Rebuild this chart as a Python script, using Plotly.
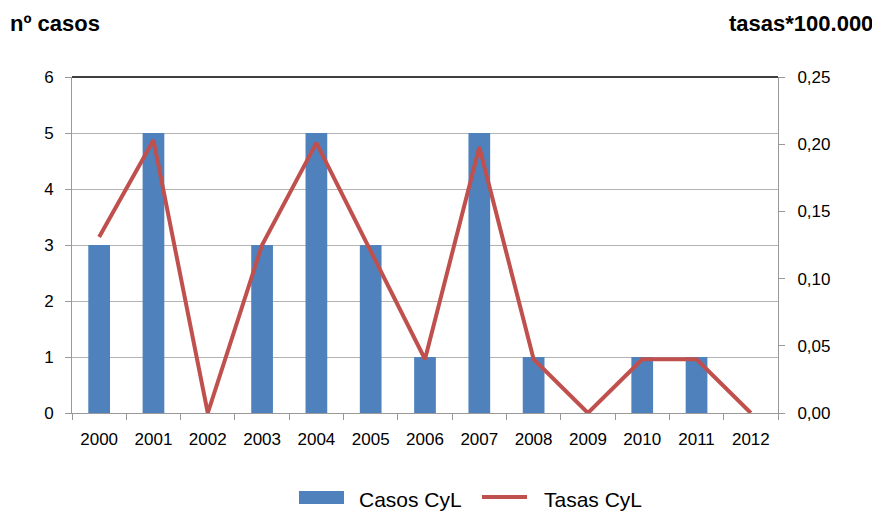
import plotly.graph_objects as go

years = [str(y) for y in range(2000, 2013)]
casos = [3, 5, 0, 3, 5, 3, 1, 5, 1, 0, 1, 1, 0]
tasas = [0.131, 0.203, 0.0, 0.125, 0.201, 0.121, 0.040, 0.198, 0.040, 0.0, 0.040, 0.040, 0.0]

FONT = "Liberation Sans, Arial, sans-serif"
BAR_COLOR = "#4F81BD"
LINE_COLOR = "#C0504D"

fig = go.Figure()
fig.add_trace(go.Bar(
    x=years, y=casos, name="Casos CyL",
    marker=dict(color=BAR_COLOR, line=dict(width=0)),
    width=0.4, showlegend=False,
))
fig.add_trace(go.Scatter(
    x=years, y=tasas, name="Tasas CyL", yaxis="y2",
    mode="lines", line=dict(color=LINE_COLOR, width=4), showlegend=False,
))

# page body has an 8px margin, so the figure is 8px smaller than the window
fig.update_layout(
    width=872, height=503,
    margin=dict(l=64, r=102, t=69, b=98, autoexpand=False),
    paper_bgcolor="white", plot_bgcolor="white",
    separators=",.",
    font=dict(family=FONT, color="black", size=17),
    xaxis=dict(type="category", range=[-0.5, 12.5], showgrid=False,
               showline=True, linecolor="#999999", linewidth=1,
               ticks="outside", tickson="boundaries", ticklen=6, tickcolor="#999999",
               tickfont=dict(size=17), ticklabelstandoff=11),
    yaxis=dict(range=[0, 6], dtick=1, showgrid=True, gridcolor="#B3B3B3", gridwidth=1,
               showline=True, linecolor="#999999", linewidth=1,
               ticks="outside", ticklen=6, tickcolor="#999999",
               tickfont=dict(size=17), ticklabelstandoff=8, zeroline=False),
    yaxis2=dict(range=[0, 0.25], dtick=0.05, tickformat=".2f", overlaying="y", side="right",
                showgrid=False, showline=True, linecolor="#999999", linewidth=1,
                ticks="outside", ticklen=6, tickcolor="#999999",
                tickfont=dict(size=17), ticklabelstandoff=9, zeroline=False),
)

# top border of plot area
fig.add_shape(type="line", xref="paper", yref="paper", x0=0, x1=1, y0=1, y1=1,
              line=dict(color="black", width=1.5))

# hand-drawn legend
fig.add_shape(type="rect", xref="paper", yref="paper",
              x0=0.3215, x1=0.3853, y0=-0.2708, y1=-0.2321,
              fillcolor=BAR_COLOR, line=dict(width=0))
fig.add_shape(type="line", xref="paper", yref="paper",
              x0=0.5807, x1=0.6445, y0=-0.25, y1=-0.25,
              line=dict(color=LINE_COLOR, width=4))
fig.add_annotation(text="Casos CyL", xref="paper", yref="paper",
                   x=0.4037, y=-0.256, xanchor="left", yanchor="middle",
                   showarrow=False, font=dict(size=21))
fig.add_annotation(text="Tasas CyL", xref="paper", yref="paper",
                   x=0.6657, y=-0.256, xanchor="left", yanchor="middle",
                   showarrow=False, font=dict(size=21))

fig.add_annotation(text="<b>nº casos</b>", xref="paper", yref="paper",
                   x=-0.0906, y=1.158, xanchor="left", yanchor="middle",
                   showarrow=False, font=dict(size=22))
fig.add_annotation(text="<b>tasas*100.000</b>", xref="paper", yref="paper",
                   x=1.137, y=1.158, xanchor="right", yanchor="middle",
                   showarrow=False, font=dict(size=22))

fig.write_html("out.html")
